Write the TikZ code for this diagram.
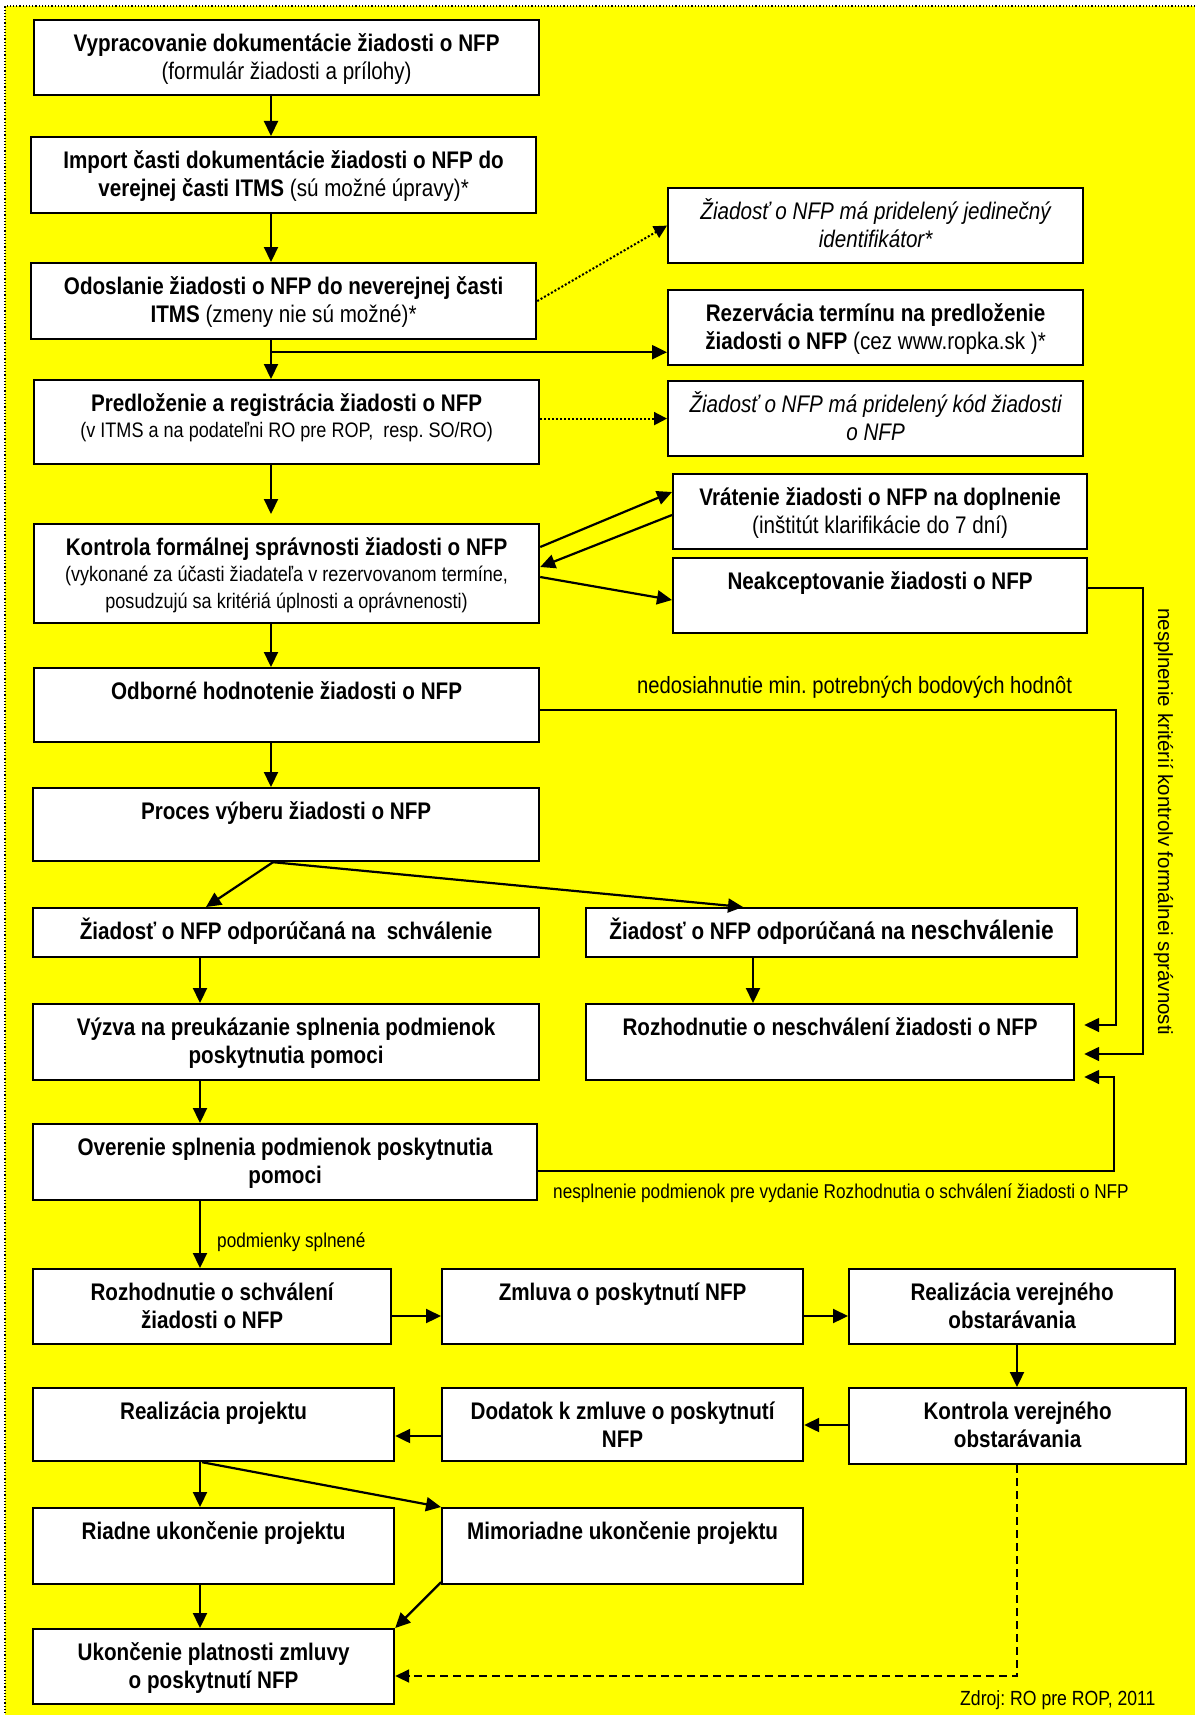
\documentclass[tikz,border=0pt]{standalone}
\usepackage{fontspec}
\setmainfont{Liberation Sans}[FakeStretch=0.86]
\newfontfamily\widesans{Liberation Sans}
\usetikzlibrary{arrows.meta,positioning,calc}
\frenchspacing

\definecolor{bgyellow}{RGB}{255,255,0}
\newcommand{\bigf}{\fontsize{24}{28}\selectfont}
\newcommand{\smallf}{\fontsize{21}{26.5}\selectfont}
\newcommand{\boxtext}[3]{\parbox[t][#2pt][t]{#1pt}{\centering\rule{0pt}{31pt}#3}}

\tikzstyle{stepbox}=[draw,line width=2.2pt,fill=white,anchor=north west,inner sep=0pt,font=\bigf\bfseries]
\tikzstyle{arr}=[line width=2.2pt,-{Triangle[length=15pt,width=14pt]}]
\tikzstyle{thinarr}=[line width=1.6pt,-{Triangle[length=15pt,width=14pt]},shorten >=9pt]
\tikzstyle{dotarr}=[line width=2pt,dotted,-{Triangle[length=13pt,width=13pt]}]
\tikzstyle{dasharr}=[line width=1.8pt,dash pattern=on 8pt off 5pt,-{Triangle[length=14pt,width=13pt]}]
\tikzstyle{lbl}=[inner sep=0pt,anchor=base west]

\begin{document}
\begin{tikzpicture}[x=1pt,y=-1pt]
  \useasboundingbox (0,0) rectangle (1195,1715);
  \fill[bgyellow] (5,6) rectangle (1195,1715);
  \draw[line width=1.2pt,dotted] (1195,6) -- (5,6) -- (5,1715);

  % left column
  \node[stepbox] (vyprac) at (33,19) {\boxtext{505}{75}{Vypracovanie dokumentácie žiadosti o NFP\\ \textmd{(formulár žiadosti a prílohy)}}};
  \node[stepbox] (import) at (30,136) {\boxtext{505}{76}{Import časti dokumentácie žiadosti o NFP do\\ verejnej časti ITMS \textmd{(sú možné úpravy)*}}};
  \node[stepbox] (odosl) at (30,262) {\boxtext{505}{76}{Odoslanie žiadosti o NFP do neverejnej časti\\ ITMS \textmd{(zmeny nie sú možné)*}}};
  \node[stepbox] (predl) at (33,379) {\boxtext{505}{84}{Predloženie a registrácia žiadosti o NFP\par\smallf\mdseries (v ITMS a na podateľni RO pre ROP,~ resp. SO/RO)}};
  \node[stepbox] (kontrola) at (33,523) {\boxtext{505}{99}{Kontrola formálnej správnosti žiadosti o NFP\par\smallf\mdseries (vykonané za účasti žiadateľa v rezervovanom termíne,\\ posudzujú sa kritériá úplnosti a oprávnenosti)}};
  \node[stepbox] (odborne) at (33,667) {\boxtext{505}{74}{Odborné hodnotenie žiadosti o NFP}};
  \node[stepbox] (proces) at (32,787) {\boxtext{506}{73}{Proces výberu žiadosti o NFP}};
  \node[stepbox] (schval) at (32,907) {\boxtext{506}{49}{Žiadosť o NFP odporúčaná na~ schválenie}};
  \node[stepbox] (neschval) at (585,907) {\boxtext{491}{49}{Žiadosť o NFP odporúčaná na {\fontsize{26.5}{28}\selectfont neschválenie}}};
  \node[stepbox] (vyzva) at (32,1003) {\boxtext{506}{76}{Výzva na preukázanie splnenia podmienok\\ poskytnutia pomoci}};
  \node[stepbox] (rozhneg) at (585,1003) {\boxtext{488}{76}{Rozhodnutie o neschválení žiadosti o NFP}};
  \node[stepbox] (overenie) at (32,1123) {\boxtext{504}{76}{Overenie splnenia podmienok poskytnutia\\ pomoci}};
  \node[stepbox] (rozhpos) at (32,1268) {\boxtext{358}{75}{Rozhodnutie o schválení\\ žiadosti o NFP}};
  \node[stepbox] (zmluva) at (441,1268) {\boxtext{361}{75}{Zmluva o poskytnutí NFP}};
  \node[stepbox] (realvo) at (848,1268) {\boxtext{326}{75}{Realizácia verejného\\ obstarávania}};
  \node[stepbox] (realproj) at (32,1387) {\boxtext{361}{73}{Realizácia projektu}};
  \node[stepbox] (dodatok) at (441,1387) {\boxtext{361}{73}{Dodatok k zmluve o poskytnutí\\ NFP}};
  \node[stepbox] (kontrvo) at (848,1387) {\boxtext{337}{76}{Kontrola verejného\\ obstarávania}};
  \node[stepbox] (riadne) at (32,1507) {\boxtext{361}{76}{Riadne ukončenie projektu}};
  \node[stepbox] (mimor) at (441,1507) {\boxtext{361}{76}{Mimoriadne ukončenie projektu}};
  \node[stepbox] (ukonc) at (32,1628) {\boxtext{361}{75}{Ukončenie platnosti zmluvy\\ o poskytnutí NFP}};

  % right column
  \node[stepbox] (identif) at (667,187) {\boxtext{415}{75}{\mdseries\itshape Žiadosť o NFP má pridelený jedinečný\\ identifikátor*}};
  \node[stepbox] (rezerv) at (667,289) {\boxtext{415}{75}{Rezervácia termínu na predloženie\\ žiadosti o NFP \textmd{(cez www.ropka.sk )*}}};
  \node[stepbox] (kod) at (667,380) {\boxtext{415}{75}{\mdseries\itshape Žiadosť o NFP má pridelený kód žiadosti\\ o NFP}};
  \node[stepbox] (vrat) at (672,473) {\boxtext{414}{75}{Vrátenie žiadosti o NFP na doplnenie\\ \textmd{(inštitút klarifikácie do 7 dní)}}};
  \node[stepbox] (neakc) at (672,557) {\boxtext{414}{75}{Neakceptovanie žiadosti o NFP}};

  % labels
  \node[lbl,font=\fontsize{23.5}{28}\selectfont] (lblscore) at (637,693) {nedosiahnutie min. potrebných bodových hodnôt};
  \node[lbl,font=\fontsize{20}{24}\selectfont] (lblcond) at (553,1198) {nesplnenie podmienok pre vydanie Rozhodnutia o schválení žiadosti o NFP};
  \node[lbl,font=\fontsize{20}{24}\selectfont] (lblok) at (217,1247) {podmienky splnené};
  \node[lbl,font=\fontsize{20.5}{24}\selectfont] (src) at (960,1705) {Zdroj: RO pre ROP, 2011};
  \node[lbl,rotate=-90,font=\widesans\fontsize{20.5}{24}\selectfont] (lblformal) at (1158,608) {nesplnenie kritérií kontrolv formálnei správnosti};

  \coordinate (split) at ([xshift=241,yshift=-12]odosl.south west);
  \coordinate (cB) at (1116,1025);
  \coordinate (cC) at (1143,1054);
  \coordinate (cD) at (1114,1077);

  % connectors, upper part
  \draw[arr] ([xshift=238]vyprac.south west) -- ([xshift=241]import.north west);
  \draw[arr] ([xshift=241]import.south west) -- ([xshift=241]odosl.north west);
  \draw[arr] ([xshift=241]odosl.south west) -- ([xshift=238]predl.north west);
  \draw[arr] (split) -- (split -| rezerv.west);
  \draw[dotarr] (odosl.east) -- (identif.west);
  \draw[dotarr] (predl.east |- kod.west) -- (kod.west);
  \draw[arr,shorten >=9pt] ([xshift=238]predl.south west) -- ([xshift=238]kontrola.north west);
  \draw[arr] ([yshift=-24]kontrola.north east) -- ([yshift=-19]vrat.north west);
  \draw[arr] ([yshift=-42]vrat.north west) -- ([yshift=-44]kontrola.north east);
  \draw[arr] ([yshift=-54]kontrola.north east) -- ([yshift=-43]neakc.north west);
  \draw[arr] ([xshift=238]kontrola.south west) -- ([xshift=238]odborne.north west);
  \draw[arr] ([xshift=238]odborne.south west) -- ([xshift=239]proces.north west);
  \draw[arr] ([xshift=241]proces.south west) -- ([xshift=174]schval.north west);
  \draw[arr] ([xshift=241]proces.south west) -- ([xshift=158]neschval.north west);
  \draw[arr] ([xshift=168]schval.south west) -- ([xshift=168]vyzva.north west);
  \draw[arr] ([xshift=168]neschval.south west) -- ([xshift=168]rozhneg.north west);
  \draw[arr] ([xshift=168]vyzva.south west) -- ([xshift=168]overenie.north west);
  \draw[arr] ([xshift=168]overenie.south west) -- ([xshift=168]rozhpos.north west);

  % returns to the rejection
  \draw[thinarr] ([yshift=-43]odborne.north east) -| (cB) -- ([yshift=-22]rozhneg.north east);
  \draw[thinarr] ([yshift=-31]neakc.north east) -| (cC) -- ([yshift=-51]rozhneg.north east);
  \draw[thinarr] ([yshift=-48]overenie.north east) -| (cD) -- ([yshift=-74]rozhneg.north east);

  % connectors, lower part
  \draw[arr] ([yshift=-48]rozhpos.north east) -- ([yshift=-48]zmluva.north west);
  \draw[arr] ([yshift=-48]zmluva.north east) -- ([yshift=-48]realvo.north west);
  \draw[arr] ([xshift=169]realvo.south west) -- ([xshift=169]kontrvo.north west);
  \draw[arr] ([yshift=-38]kontrvo.north west) -- ([yshift=-38]dodatok.north east);
  \draw[arr] ([yshift=-49]dodatok.north west) -- ([yshift=-49]realproj.north east);
  \draw[arr] ([xshift=168]realproj.south west) -- ([xshift=168]riadne.north west);
  \draw[arr] ([xshift=170]realproj.south west) -- (mimor.north west);
  \draw[arr] ([xshift=168]riadne.south west) -- ([xshift=168]ukonc.north west);
  \draw[arr] ([yshift=3]mimor.south west) -- (ukonc.north east);
  \draw[dasharr] ([xshift=169]kontrvo.south west) |- ([yshift=-48]ukonc.north east);
\end{tikzpicture}
\end{document}
